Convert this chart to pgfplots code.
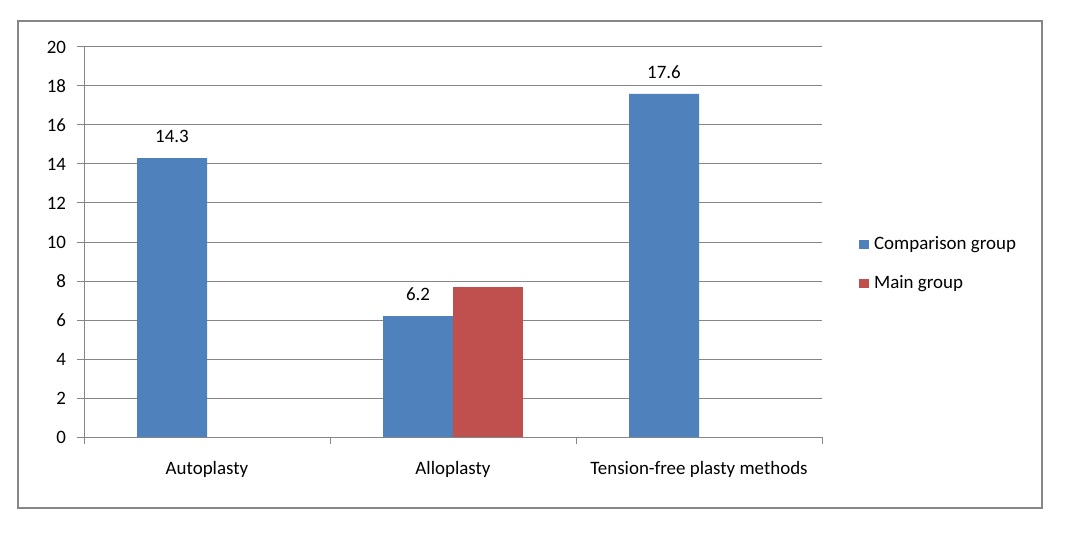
\documentclass[border=0pt]{standalone}
\usepackage{pgfplots}
\pgfplotsset{compat=1.18}
\usepackage{fontspec}
\setmainfont{Carlito}
\definecolor{cmpblue}{HTML}{4F81BD}
\definecolor{mainred}{HTML}{C0504D}
\definecolor{framegray}{HTML}{868686}

\begin{document}
\begin{tikzpicture}[font=\fontsize{14.2}{17}\selectfont]
% 1 px of the reference = 0.75pt
\path[use as bounding box] (0pt,0pt) rectangle (801.75pt,399pt);
\draw[framegray, line width=1.6pt] (13.5pt,18pt) rectangle (781.5pt,383.25pt);
\begin{axis}[
  at={(63pt,71.25pt)}, anchor=south west,
  scale only axis, width=553.5pt, height=292.5pt,
  xmin=-0.5, xmax=2.5, ymin=0, ymax=20,
  ytick={0,2,...,20},
  xtick={0,1,2},
  xticklabels={Autoplasty, Alloplasty, Tension-free plasty methods},
  minor xtick={-0.5,0.5,1.5,2.5},
  major x tick style={draw=none},
  minor tick length=5pt,
  major tick length=5pt,
  tick align=outside,
  tick style={framegray, line width=0.75pt},
  axis x line*=bottom, axis y line*=left,
  axis line style={framegray, line width=0.75pt, -},
  ymajorgrids, grid style={framegray, line width=0.75pt},
  yticklabel style={xshift=-5pt},
  xticklabel style={yshift=-10pt},
  /pgf/number format/assume math mode=true,
  ybar, bar width=52.5pt,
  legend style={draw=none, at={(1.045,0.444)}, anchor=west,
    row sep=14pt, font=\fontsize{14.2}{17}\selectfont,
    nodes={inner xsep=4pt}},
  legend cell align=left,
  clip=false,
]
\addplot[fill=cmpblue, draw=none, bar shift=-26.25pt,
  nodes near coords, nodes near coords style={black, yshift=8pt},
  legend image code/.code={\fill[cmpblue] (0pt,-3.5pt) rectangle (7pt,3.5pt);}]
  coordinates {(0,14.3) (1,6.2) (2,17.6)};
\addlegendentry{Comparison group}
\addplot[fill=mainred, draw=none, bar shift=26.25pt,
  legend image code/.code={\fill[mainred] (0pt,-3.5pt) rectangle (7pt,3.5pt);}]
  coordinates {(1,7.7)};
\addlegendentry{Main group}
\end{axis}
\end{tikzpicture}
\end{document}
